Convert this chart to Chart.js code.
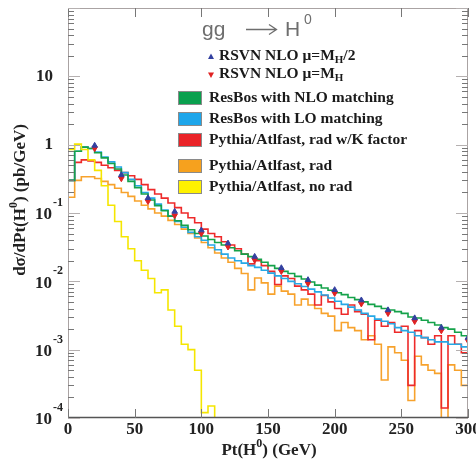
<!DOCTYPE html>
<html>
<head>
<meta charset="utf-8">
<script src="https://cdn.jsdelivr.net/npm/chart.js@4.4.1/dist/chart.umd.min.js"></script>
<style>
  body { margin: 0; background: #fff; }
  canvas { display: block; }
</style>
</head>
<body>
<canvas id="chart" width="476" height="464"></canvas>
<script>
// bin low edges (GeV), 5 GeV bins
const ptBins = [0, 5, 10, 15, 20, 25, 30, 35, 40, 45, 50, 55, 60, 65, 70, 75, 80, 85, 90, 95,
  100, 105, 110, 115, 120, 125, 130, 135, 140, 145, 150, 155, 160, 165, 170, 175, 180, 185, 190, 195,
  200, 205, 210, 215, 220, 225, 230, 235, 240, 245, 250, 255, 260, 265, 270, 275, 280, 285, 290, 295];
const ptMax = 300;

// d sigma / dPt (pb/GeV)
const resbosNLO = [0.3, 0.8, 0.92, 0.88, 0.76, 0.64, 0.53, 0.44, 0.36, 0.29,
  0.235, 0.19, 0.155, 0.128, 0.108, 0.09, 0.077, 0.066, 0.057, 0.05,
  0.046, 0.041, 0.037, 0.034, 0.031, 0.028, 0.025, 0.023, 0.021, 0.019,
  0.017, 0.0155, 0.014, 0.013, 0.0118, 0.0108, 0.0098, 0.0088, 0.008, 0.0074,
  0.0068, 0.0064, 0.0058, 0.0054, 0.005, 0.0046, 0.0043, 0.004, 0.0038, 0.0036,
  0.0034, 0.003, 0.0029, 0.0027, 0.0025, 0.0023, 0.0021, 0.002, 0.0018, 0.0016];
const resbosLO = [0.3, 0.8, 0.92, 0.88, 0.78, 0.66, 0.56, 0.47, 0.39, 0.31,
  0.25, 0.2, 0.165, 0.135, 0.11, 0.09, 0.075, 0.062, 0.052, 0.045,
  0.04, 0.034, 0.029, 0.025, 0.022, 0.02, 0.0185, 0.017, 0.016, 0.0145,
  0.0132, 0.012, 0.011, 0.01, 0.0092, 0.0084, 0.0077, 0.007, 0.0063, 0.0057,
  0.0051, 0.0046, 0.0042, 0.0038, 0.0034, 0.0031, 0.0028, 0.0026, 0.0024, 0.0021,
  0.0019, 0.0018, 0.0016, 0.0015, 0.0014, 0.0013, 0.0013, 0.0012, 0.0012, 0.0011];
const pythiaRadK = [0.3, 0.55, 0.6, 0.58, 0.55, 0.5, 0.46, 0.42, 0.39, 0.35,
  0.31, 0.26, 0.22, 0.19, 0.165, 0.14, 0.12, 0.1, 0.085, 0.072,
  0.058, 0.05, 0.045, 0.038, 0.034, 0.03, 0.025, 0.018, 0.02, 0.017,
  0.014, 0.009, 0.012, 0.011, 0.0085, 0.0075, 0.0065, 0.0045, 0.0062, 0.005,
  0.004, 0.0033, 0.0045, 0.0036, 0.0033, 0.0014, 0.0027, 0.0022, 0.0025, 0.0018,
  0.0022, 0.0003, 0.0019, 0.0015, 0.0012, 0.0016, 0.00014, 0.0016, 0.0012, 0.0009];
const pythiaRad = [0.17, 0.3, 0.34, 0.34, 0.32, 0.29, 0.26, 0.23, 0.2, 0.175,
  0.15, 0.13, 0.115, 0.1, 0.09, 0.078, 0.068, 0.058, 0.05, 0.043,
  0.037, 0.031, 0.026, 0.022, 0.019, 0.0155, 0.013, 0.0075, 0.0112, 0.0095,
  0.0065, 0.0085, 0.0072, 0.0065, 0.0045, 0.0055, 0.0045, 0.004, 0.0034, 0.0031,
  0.0019, 0.0025, 0.0021, 0.0019, 0.0014, 0.0016, 0.0012, 0.00036, 0.0011, 0.0009,
  0.0007, 0.00018, 0.0008, 0.0006, 0.0005, 0.00045, 0.000001, 0.0006, 0.0005, 0.0003];
const pythiaNoRad = [0.85, 1.02, 0.85, 0.6, 0.42, 0.25, 0.13, 0.075, 0.045, 0.03,
  0.02, 0.0145, 0.011, 0.0068, 0.0075, 0.0038, 0.0022, 0.0012, 0.001, 0.0005,
  0.00012, 0.00015, 0.000001];

// RSVN NLO points
const rsvnPt = [20, 40, 60, 80, 100, 120, 140, 160, 180, 200, 220, 240, 260, 280, 300];
const rsvnHalf = [0.97, 0.36, 0.166, 0.105, 0.056, 0.036, 0.023, 0.0157, 0.0105, 0.0075,
  0.0053, 0.0038, 0.0029, 0.0021, 0.0015];
const rsvnFull = [0.88, 0.32, 0.148, 0.092, 0.05, 0.032, 0.0205, 0.014, 0.0093, 0.0067,
  0.0047, 0.0034, 0.0026, 0.0019, 0.00135];

const xTicks = [0, 50, 100, 150, 200, 250, 300];
const yDecades = [-4, -3, -2, -1, 0, 1, 2];

function histPoints(vals) {
  const pts = vals.map((v, i) => ({ x: ptBins[i], y: v }));
  const last = vals.length - 1;
  pts.push({ x: Math.min(ptBins[last] + (ptBins[1] - ptBins[0]), ptMax), y: vals[last] });
  return pts;
}

const SERIF = '"Liberation Serif", "Times New Roman", serif';
const SANS = '"Liberation Sans", Arial, sans-serif';

function histSet(label, vals, color, order) {
  return {
    label: label,
    data: histPoints(vals),
    borderColor: color,
    borderWidth: 1.6,
    stepped: true,
    pointRadius: 0,
    fill: false,
    order: order
  };
}

// draws text made of pieces [text, 'sup'|'sub'|null]
function richText(ctx, parts, x, y, size, align) {
  const small = Math.round(size * 0.68);
  let total = 0;
  parts.forEach(p => {
    ctx.font = 'bold ' + (p[1] ? small : size) + 'px ' + SERIF;
    total += ctx.measureText(p[0]).width;
  });
  let cx = align === 'center' ? x - total / 2 : (align === 'right' ? x - total : x);
  ctx.textAlign = 'left';
  parts.forEach(p => {
    ctx.font = 'bold ' + (p[1] ? small : size) + 'px ' + SERIF;
    let dy = 0;
    if (p[1] === 'sup') dy = -size * 0.42;
    if (p[1] === 'sub') dy = size * 0.3;
    ctx.fillText(p[0], cx, y + dy);
    cx += ctx.measureText(p[0]).width;
  });
}

const framePlugin = {
  id: 'frame',
  afterDraw(chart) {
    const ctx = chart.ctx;
    const a = chart.chartArea;
    const xs = chart.scales.x, ys = chart.scales.y;
    ctx.save();

    // frame
    ctx.lineWidth = 1;
    ctx.strokeStyle = '#aaa3a3';
    ctx.beginPath();
    ctx.moveTo(a.left + 0.5, a.bottom); ctx.lineTo(a.left + 0.5, a.top + 0.5);
    ctx.lineTo(a.right - 0.5, a.top + 0.5); ctx.lineTo(a.right - 0.5, a.bottom);
    ctx.stroke();
    ctx.strokeStyle = '#555';
    ctx.lineWidth = 1.3;
    ctx.beginPath();
    ctx.moveTo(a.left, a.bottom - 0.5); ctx.lineTo(a.right, a.bottom - 0.5);
    ctx.stroke();

    // x ticks
    ctx.lineWidth = 1;
    ctx.strokeStyle = '#777';
    xTicks.forEach(t => {
      const px = Math.round(xs.getPixelForValue(t)) + 0.5;
      ctx.beginPath();
      ctx.moveTo(px, a.bottom); ctx.lineTo(px, a.bottom - 9);
      ctx.moveTo(px, a.top); ctx.lineTo(px, a.top + 9);
      ctx.stroke();
    });

    // y ticks (log)
    yDecades.forEach(d => {
      for (let k = 1; k <= 9; k++) {
        const v = k * Math.pow(10, d);
        if (v > ys.max * 1.0001 || v < ys.min * 0.9999) continue;
        const py = Math.round(ys.getPixelForValue(v)) + 0.5;
        const len = k === 1 ? 12 : 6;
        ctx.strokeStyle = k === 1 ? '#b5b0b0' : '#777';
        ctx.beginPath();
        ctx.moveTo(a.left, py); ctx.lineTo(a.left + len, py);
        ctx.moveTo(a.right, py); ctx.lineTo(a.right - len, py);
        ctx.stroke();
      }
    });

    // tick labels
    ctx.fillStyle = '#222';
    ctx.textBaseline = 'middle';
    xTicks.forEach(t => {
      richText(ctx, [[String(t), null]], xs.getPixelForValue(t), 430, 17, 'center');
    });
    yDecades.forEach(d => {
      if (d === 2) return;
      const py = ys.getPixelForValue(Math.pow(10, d));
      if (d === 0) {
        richText(ctx, [['1', null]], 53, py, 17, 'right');
      } else if (d === 1) {
        richText(ctx, [['10', null]], 53, py, 17, 'right');
      } else {
        richText(ctx, [['10', null]], 52, py + 2, 17, 'right');
        ctx.font = 'bold 12px ' + SERIF;
        ctx.textAlign = 'left';
        ctx.fillText(String(d), 53, py - 10);
      }
    });

    // axis titles
    richText(ctx, [['Pt(H', null], ['0', 'sup'], [') (GeV)', null]], 269, 451, 17, 'center');
    ctx.save();
    ctx.translate(21, 200);
    ctx.rotate(-Math.PI / 2);
    richText(ctx, [['d\u03c3/dPt(H', null], ['0', 'sup'], [') (pb/GeV)', null]], 0, 0, 17, 'center');
    ctx.restore();

    // process title: gg -> H0
    ctx.fillStyle = '#6e6e6e';
    ctx.strokeStyle = '#6e6e6e';
    ctx.font = '21px ' + SANS;
    ctx.textAlign = 'left';
    ctx.fillText('gg', 202, 30);
    ctx.lineWidth = 1.3;
    ctx.beginPath();
    ctx.moveTo(246, 29.5); ctx.lineTo(276, 29.5);
    ctx.moveTo(269, 24.5); ctx.lineTo(276.5, 29.5); ctx.lineTo(269, 34.5);
    ctx.stroke();
    ctx.fillText('H', 285, 30);
    ctx.font = '14px ' + SANS;
    ctx.fillText('0', 304, 20);

    // legend
    ctx.fillStyle = '#3340a0';
    ctx.beginPath();
    ctx.moveTo(211, 53.5); ctx.lineTo(214, 59); ctx.lineTo(208, 59); ctx.closePath(); ctx.fill();
    ctx.fillStyle = '#e02222';
    ctx.beginPath();
    ctx.moveTo(208, 72.5); ctx.lineTo(214, 72.5); ctx.lineTo(211, 78); ctx.closePath(); ctx.fill();

    ctx.fillStyle = '#1a1a1a';
    richText(ctx, [['RSVN NLO ', null], ['\u03bc=M', null], ['H', 'sub'], ['/2', null]], 219, 56, 15.5, 'left');
    richText(ctx, [['RSVN NLO ', null], ['\u03bc=M', null], ['H', 'sub']], 219, 74, 15.5, 'left');

    const boxes = [
      ['ResBos with NLO matching', '#0aa04e', 98],
      ['ResBos with LO matching', '#1ea6ea', 119],
      ['Pythia/Atlfast, rad w/K factor', '#ea2428', 140],
      ['Pythia/Atlfast, rad', '#f6a11e', 166],
      ['Pythia/Atlfast, no rad', '#fff200', 187]
    ];
    boxes.forEach(b => {
      ctx.fillStyle = b[1];
      ctx.fillRect(178, b[2] - 7, 24, 14);
      ctx.strokeStyle = '#8a8a8a';
      ctx.lineWidth = 1;
      ctx.strokeRect(178.5, b[2] - 6.5, 23, 13);
      ctx.fillStyle = '#1a1a1a';
      richText(ctx, [[b[0], null]], 209, b[2], 15.5, 'left');
    });

    ctx.restore();
  }
};

new Chart(document.getElementById('chart'), {
  type: 'line',
  data: {
    datasets: [
      {
        label: 'RSVN NLO mu=MH/2',
        data: rsvnPt.map((x, i) => ({ x: x, y: rsvnHalf[i] })),
        showLine: false,
        pointStyle: 'triangle',
        pointRadius: 3.2,
        backgroundColor: '#3340a0',
        borderColor: '#3340a0',
        order: 0
      },
      {
        label: 'RSVN NLO mu=MH',
        data: rsvnPt.map((x, i) => ({ x: x, y: rsvnFull[i] })),
        showLine: false,
        pointStyle: 'triangle',
        rotation: 180,
        pointRadius: 3.2,
        backgroundColor: '#e02222',
        borderColor: '#e02222',
        order: 1
      },
      histSet('Pythia/Atlfast, no rad', pythiaNoRad, '#f5e600', 2),
      histSet('ResBos with NLO matching', resbosNLO, '#15a24a', 3),
      histSet('ResBos with LO matching', resbosLO, '#26a8e6', 4),
      histSet('Pythia/Atlfast, rad w/K factor', pythiaRadK, '#ee2a2a', 5),
      histSet('Pythia/Atlfast, rad', pythiaRad, '#f7a22c', 6)
    ]
  },
  options: {
    responsive: false,
    animation: false,
    layout: { padding: { left: 68, right: 8, top: 8, bottom: 46 } },
    plugins: { legend: { display: false }, tooltip: { enabled: false } },
    scales: {
      x: { type: 'linear', min: 0, max: ptMax, display: false },
      y: { type: 'logarithmic', min: 1e-4, max: 100, display: false }
    }
  },
  plugins: [framePlugin]
});
</script>
</body>
</html>
